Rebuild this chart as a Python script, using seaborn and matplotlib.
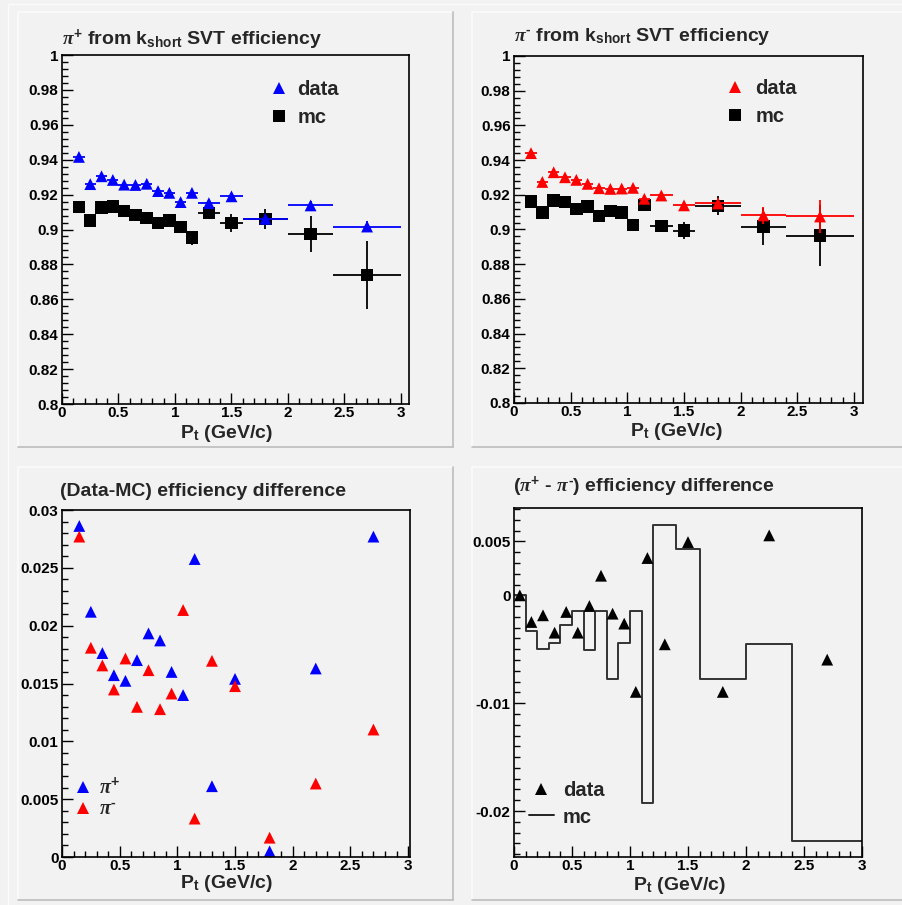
import numpy as np
import pandas as pd
import matplotlib
matplotlib.use("Agg")
import matplotlib.pyplot as plt
import matplotlib.ticker as mt
from matplotlib.lines import Line2D
import seaborn as sns

# ---------------- data ----------------
bin_edges = [0.0, 0.1, 0.2, 0.3, 0.4, 0.5, 0.6, 0.7, 0.8, 0.9, 1.0, 1.1, 1.2,
             1.4, 1.6, 2.0, 2.4, 3.0]

# pi+ efficiency (bins 0.1 .. 3.0)
pip_data = [0.9416, 0.9260, 0.9305, 0.9284, 0.9257, 0.9255, 0.9262, 0.9220,
            0.9210, 0.9157, 0.9210, 0.9151, 0.9190, 0.9061, 0.9138, 0.9017]
pip_data_err = [0.0012, 0.0010, 0.0010, 0.0010, 0.0010, 0.0010, 0.0011, 0.0012,
                0.0013, 0.0014, 0.0015, 0.0015, 0.0017, 0.0020, 0.0025, 0.0030]
pip_mc = [0.9128, 0.9052, 0.9126, 0.9132, 0.9105, 0.9084, 0.9067, 0.9036,
          0.9052, 0.9015, 0.8954, 0.9094, 0.9036, 0.9061, 0.8975, 0.8740]
pip_mc_err = [0.0020, 0.0020, 0.0020, 0.0020, 0.0022, 0.0022, 0.0025, 0.0025,
              0.0030, 0.0033, 0.0040, 0.0030, 0.0050, 0.0057, 0.0105, 0.0194]

# pi- efficiency
pim_data = [0.9440, 0.9274, 0.9330, 0.9301, 0.9286, 0.9263, 0.9238, 0.9234,
            0.9236, 0.9240, 0.9177, 0.9196, 0.9139, 0.9150, 0.9081, 0.9075]
pim_data_err = [0.0012, 0.0010, 0.0010, 0.0010, 0.0010, 0.0010, 0.0011, 0.0012,
                0.0013, 0.0014, 0.0015, 0.0015, 0.0017, 0.0030, 0.0050, 0.0096]
pim_mc = [0.9161, 0.9098, 0.9167, 0.9159, 0.9117, 0.9132, 0.9079, 0.9108,
          0.9098, 0.9027, 0.9140, 0.9021, 0.8994, 0.9136, 0.9017, 0.8964]
pim_mc_err = [0.0020, 0.0020, 0.0020, 0.0020, 0.0022, 0.0022, 0.0025, 0.0025,
              0.0030, 0.0033, 0.0035, 0.0035, 0.0050, 0.0055, 0.0105, 0.0176]

# (data - mc) efficiency difference
diff_pip = [0.02862, 0.0212, 0.01763, 0.01572, 0.01523, 0.01702, 0.01933, 0.01872,
            0.0160, 0.0140, 0.02576, 0.00612, 0.0154, 0.00049, 0.0163, 0.0277]
diff_pim = [0.0277, 0.01809, 0.01656, 0.01448, 0.01716, 0.01298, 0.01615, 0.01278,
            0.01413, 0.02135, 0.00332, 0.01696, 0.01477, 0.00167, 0.00635, 0.01102]

# (pi+ - pi-) efficiency difference (bins 0.0 .. 3.0)
charge_diff_data = [0.0, -0.00247, -0.00185, -0.00346, -0.00154, -0.00346, -0.00099,
                    0.00182, -0.00170, -0.00262, -0.00895, 0.00346, -0.00454,
                    0.00494, -0.00895, 0.00556, -0.00596]
charge_diff_mc = [0.0, -0.00330, -0.00494, -0.00441, -0.00278, -0.00148, -0.00503,
                  -0.00145, -0.00772, -0.00441, -0.00148, -0.01923, 0.00654,
                  0.00426, -0.00772, -0.00454, -0.02275]

# ---------------- derived ----------------
edges = np.array(bin_edges)
centers_all = 0.5 * (edges[1:] + edges[:-1])
half_all = 0.5 * (edges[1:] - edges[:-1])
centers = centers_all[1:]
half = half_all[1:]

# ---------------- style ----------------
sns.set_style("ticks")
BG = "#f2f2f2"
plt.rcParams.update({
    "font.family": ["Liberation Sans", "DejaVu Sans"],
    "font.weight": "bold",
    "mathtext.fontset": "custom",
    "mathtext.rm": "Liberation Sans:bold",
    "mathtext.bf": "Liberation Sans:bold",
    "mathtext.it": "Liberation Serif:italic",
    "axes.linewidth": 1.2,
    "axes.edgecolor": "black",
    "xtick.color": "black",
    "ytick.color": "black",
})

W, H = 903, 905
fig = plt.figure(figsize=(W / 100, H / 100), dpi=100, facecolor=BG)


def fx(px):
    return px / W


def fy(py):
    return 1 - py / H


# pads with bevel
def pad(x0, y0, x1, y1, right=True):
    fig.add_artist(Line2D([fx(x0), fx(x1)], [fy(y0), fy(y0)], color="#fbfbfb", lw=1.2))
    fig.add_artist(Line2D([fx(x0), fx(x0)], [fy(y0), fy(y1)], color="#fbfbfb", lw=1.2))
    fig.add_artist(Line2D([fx(x0), fx(x1)], [fy(y1), fy(y1)], color="#bdbdbd", lw=1.2))
    if right:
        fig.add_artist(Line2D([fx(x1), fx(x1)], [fy(y0), fy(y1)], color="#bdbdbd", lw=1.2))


pad(18, 12, 453, 447)
pad(472, 12, 903, 447, right=False)
pad(18, 467, 453, 900)
pad(472, 467, 903, 900, right=False)
fig.add_artist(Line2D([fx(8), fx(8)], [fy(4), fy(905)], color="#fbfbfb", lw=1))
fig.add_artist(Line2D([fx(8), fx(903)], [fy(4), fy(4)], color="#fbfbfb", lw=1))

TICK_FS = 11


def make_ax(left, right, top, bottom):
    ax = fig.add_axes([fx(left), fy(bottom), (right - left) / W, (bottom - top) / H])
    ax.set_facecolor(BG)
    for s in ax.spines.values():
        s.set_visible(True)
        s.set_linewidth(1.2)
    ax.tick_params(which="both", direction="in", top=False, right=False,
                   labelsize=TICK_FS, pad=2.5, width=1.0)
    ax.tick_params(axis="x", which="both", pad=1.5)
    ax.tick_params(which="major", length=8)
    ax.tick_params(which="minor", length=4)
    ax.xaxis.set_major_locator(mt.MultipleLocator(0.5))
    ax.xaxis.set_minor_locator(mt.MultipleLocator(0.1))
    ax.xaxis.set_major_formatter(mt.FuncFormatter(lambda v, p: "%g" % round(v, 6)))
    ax.yaxis.set_major_formatter(mt.FuncFormatter(lambda v, p: "%g" % round(v, 6)))
    return ax


TITLE_FS = 14
XLAB_FS = 14
LEG_FS = 14.5
MS_TRI = 8.5
MS_SQ = 9


def eff_panel(ax, data, data_err, mc, mc_err, col):
    df_mc = pd.DataFrame({"pt": centers, "eff": mc})
    df_d = pd.DataFrame({"pt": centers, "eff": data})
    ax.errorbar(centers, mc, xerr=half, yerr=mc_err, fmt="none", ecolor="black",
                elinewidth=1.3, capsize=0, zorder=2)
    sns.scatterplot(data=df_mc, x="pt", y="eff", marker="s", color="black",
                    s=MS_SQ ** 2, edgecolor="none", linewidth=0, ax=ax, zorder=3)
    ax.errorbar(centers, data, xerr=half, yerr=data_err, fmt="none", ecolor=col,
                elinewidth=1.3, capsize=0, zorder=4)
    sns.scatterplot(data=df_d, x="pt", y="eff", marker="^", color=col,
                    s=MS_TRI ** 2, edgecolor="none", linewidth=0, ax=ax, zorder=5)
    ax.set_ylim(0.8, 1.0)
    ax.yaxis.set_major_locator(mt.MultipleLocator(0.02))
    ax.yaxis.set_minor_locator(mt.MultipleLocator(0.004))
    ax.set_xlabel("")
    ax.set_ylabel("")


# ---- top-left
ax1 = make_ax(62, 409, 55, 404)
eff_panel(ax1, pip_data, pip_data_err, pip_mc, pip_mc_err, "blue")
ax1.set_xlim(0, 3.071)

# ---- top-right
ax2 = make_ax(514, 863, 56, 403)
eff_panel(ax2, pim_data, pim_data_err, pim_mc, pim_mc_err, "red")
ax2.set_xlim(0, 3.079)

# ---- bottom-left
ax3 = make_ax(62, 410, 510, 857)
df3 = pd.DataFrame({"pt": np.concatenate([centers, centers]),
                    "diff": diff_pip + diff_pim,
                    "pion": ["pi+"] * len(centers) + ["pi-"] * len(centers)})
sns.scatterplot(data=df3, x="pt", y="diff", hue="pion",
                palette={"pi+": "blue", "pi-": "red"}, marker="^",
                s=MS_TRI ** 2, edgecolor="none", linewidth=0, legend=False, ax=ax3)
ax3.set_xlim(0, 3.017)
ax3.set_ylim(0, 0.03)
ax3.yaxis.set_major_locator(mt.MultipleLocator(0.005))
ax3.yaxis.set_minor_locator(mt.MultipleLocator(0.001))
ax3.set_xlabel("")
ax3.set_ylabel("")

# ---- bottom-right
ax4 = make_ax(514, 862, 508, 857)
df4s = pd.DataFrame({"edge": edges, "diff": charge_diff_mc + [charge_diff_mc[-1]]})
sns.lineplot(data=df4s, x="edge", y="diff", drawstyle="steps-post", color="#333333",
             lw=1.4, sort=False, estimator=None, ax=ax4)
df4 = pd.DataFrame({"pt": centers_all, "diff": charge_diff_data})
sns.scatterplot(data=df4, x="pt", y="diff", marker="^", color="black",
                s=MS_TRI ** 2, edgecolor="none", linewidth=0, ax=ax4, zorder=5)
ax4.set_xlim(0, 3.0)
ax4.set_ylim(-0.02426, 0.0081)
ax4.yaxis.set_major_locator(mt.FixedLocator([-0.02, -0.01, 0.0, 0.005]))
ax4.yaxis.set_minor_locator(mt.MultipleLocator(0.001))
ax4.set_xlabel("")
ax4.set_ylabel("")

for ax in (ax1, ax2, ax3, ax4):
    for lab in ax.get_xticklabels() + ax.get_yticklabels():
        lab.set_fontweight("bold")
        lab.set_fontsize(TICK_FS)

# ---- titles (superscript minus drawn as a short hyphen, as in the reference)
HY = "\u2010"
fig.text(fx(62), fy(45), r"$\pi^{+}$ from k$_{\mathrm{short}}$ SVT efficiency",
         fontsize=TITLE_FS, fontweight="bold", va="baseline", ha="left")
fig.text(fx(514), fy(41), r"$\pi^{" + HY + r"}$ from k$_{\mathrm{short}}$ SVT efficiency",
         fontsize=TITLE_FS, fontweight="bold", va="baseline", ha="left")
fig.text(fx(60), fy(496), "(Data-MC) efficiency difference",
         fontsize=TITLE_FS, fontweight="bold", va="baseline", ha="left")
fig.text(fx(513), fy(492), r"($\pi^{+}$ - $\pi^{" + HY + r"}$) efficiency difference",
         fontsize=TITLE_FS, fontweight="bold", va="baseline", ha="left")

# ---- x axis titles
for (x, y) in [(180, 438), (630, 436), (180, 888), (633, 890)]:
    fig.text(fx(x), fy(y), r"P$_{\mathrm{t}}$ (GeV/c)", fontsize=XLAB_FS,
             fontweight="bold", va="baseline", ha="left")


# ---- legends
def legend(ax, handles, labels, x_left, y_center, fs, tpad, lspace, hlen=1.0, weight="bold"):
    leg = ax.legend(handles, labels, loc="center left",
                    bbox_to_anchor=(fx(x_left), fy(y_center)),
                    bbox_transform=fig.transFigure, frameon=False, borderpad=0,
                    handlelength=hlen, handletextpad=tpad, labelspacing=lspace,
                    borderaxespad=0, prop={"size": fs, "weight": weight})
    return leg


tri = lambda c: Line2D([], [], marker="^", color=c, ls="none", markersize=MS_TRI,
                       markeredgewidth=0)
sq = Line2D([], [], marker="s", color="black", ls="none", markersize=MS_SQ,
            markeredgewidth=0)
ln = Line2D([], [], color="#222222", lw=1.4)

legend(ax1, [tri("blue"), sq], ["data", "mc"], 269, 103.5, LEG_FS, 0.4, 0.45)
legend(ax2, [tri("red"), sq], ["data", "mc"], 725, 102.5, LEG_FS, 0.5, 0.45)
legend(ax3, [tri("blue"), tri("red")], [r"$\pi^{+}$", r"$\pi^{" + HY + r"}$"], 73, 798,
       LEG_FS, 0.3, 0.1, weight="normal")
legend(ax4, [tri("black"), ln], ["data", "mc"], 529, 804, LEG_FS, 0.45, 0.35, hlen=1.22)

fig.savefig("out.png", dpi=100, facecolor=BG)
